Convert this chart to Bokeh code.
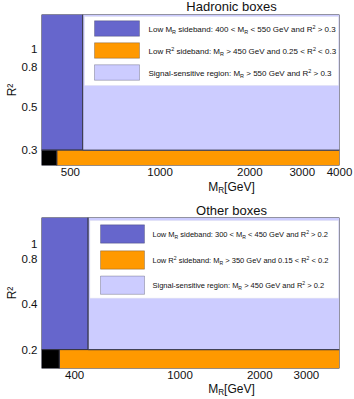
from bokeh.plotting import figure
from bokeh.layouts import column
from bokeh.models import FixedTicker, Label, BoxAnnotation
from bokeh.embed import file_html
from bokeh.resources import INLINE

# ---------------- data ----------------
# Hadronic boxes: region bounds in M_R [GeV] and R^2
had_title = "Hadronic boxes"
had_names = ["Low MR sideband", "Low R2 sideband", "Signal-sensitive region", "Excluded corner"]
had_mr_lo = [400, 450, 550, 400]
had_mr_hi = [550, 4000, 4000, 450]
had_r2_lo = [0.3, 0.25, 0.3, 0.25]
had_r2_hi = [1.5, 0.3, 1.5, 0.3]
had_x_range = (400, 4000)
had_y_range = (0.25, 1.5)
had_x_ticks = [500, 1000, 2000, 3000, 4000]
had_x_labels = ["500", "1000", "2000", "3000", "4000"]
had_y_ticks = [0.3, 0.5, 0.8, 1.0]
had_y_labels = ["0.3", "0.5", "0.8", "1"]

# Other boxes
oth_title = "Other boxes"
oth_names = ["Low MR sideband", "Low R2 sideband", "Signal-sensitive region", "Excluded corner"]
oth_mr_lo = [300, 350, 450, 300]
oth_mr_hi = [450, 4000, 4000, 350]
oth_r2_lo = [0.2, 0.15, 0.2, 0.15]
oth_r2_hi = [1.5, 0.2, 1.5, 0.2]
oth_x_range = (300, 4000)
oth_y_range = (0.15, 1.5)
oth_x_ticks = [400, 1000, 2000, 3000]
oth_x_labels = ["400", "1000", "2000", "3000"]
oth_y_ticks = [0.2, 0.4, 0.8, 1.0]
oth_y_labels = ["0.2", "0.4", "0.8", "1"]

# legend texts as (text, role) runs; role: n = normal, sub = subscript, sup = superscript
had_legend = [
    [("Low M", "n"), ("R", "sub"), (" sideband: 400 < M", "n"), ("R", "sub"),
     (" < 550 GeV and R", "n"), ("2", "sup"), (" > 0.3", "n")],
    [("Low R", "n"), ("2", "sup"), (" sideband: M", "n"), ("R", "sub"),
     (" > 450 GeV and 0.25 < R", "n"), ("2", "sup"), (" < 0.3", "n")],
    [("Signal-sensitive region: M", "n"), ("R", "sub"), (" > 550 GeV and R", "n"),
     ("2", "sup"), (" > 0.3", "n")],
]
oth_legend = [
    [("Low M", "n"), ("R", "sub"), (" sideband: 300 < M", "n"), ("R", "sub"),
     (" < 450 GeV and R", "n"), ("2", "sup"), (" > 0.2", "n")],
    [("Low R", "n"), ("2", "sup"), (" sideband: M", "n"), ("R", "sub"),
     (" > 350 GeV and 0.15 < R", "n"), ("2", "sup"), (" < 0.2", "n")],
    [("Signal-sensitive region: M", "n"), ("R", "sub"), (" > 450 GeV and R", "n"),
     ("2", "sup"), (" > 0.2", "n")],
]
x_label_runs = [("M", "n"), ("R", "sub"), ("[GeV]", "n")]

# ---------------- style ----------------
FONT = "Liberation Sans"
COLORS = ["#6666cc", "#ff9900", "#ccccff", "#000000"]
EDGE = "#333344"
TEXT = "#111111"
FRAME_W, FRAME_H = 298, 151
LEFT, RIGHT, BOTTOM = 41, 15, 15
CX = LEFT + FRAME_W / 2
BASE_FIX = 0.27   # raise labels so their alphabetic baseline lands on the requested y

# Arial / Liberation Sans advance widths (1/1000 em)
W = {" ": 278, ":": 278, ".": 278, "<": 584, ">": 584, "[": 278, "]": 278, "-": 333,
     "G": 778, "L": 556, "M": 833, "R": 722, "S": 667, "V": 667,
     "a": 556, "b": 556, "d": 556, "e": 556, "g": 556, "i": 222, "l": 222, "n": 556,
     "o": 556, "r": 333, "s": 500, "t": 278, "v": 500, "w": 722}


def tw(s, fs):
    return sum(W.get(c, 556) for c in s) * fs / 1000.0


def rich_text(p, runs, x0, y_base, fs, align="left"):
    """Place a run of normal/sub/superscript text pieces side by side (screen units)."""
    sizes = [fs if r == "n" else fs * 0.68 for _, r in runs]
    widths = [tw(t, f) for (t, _), f in zip(runs, sizes)]
    x = x0 - sum(widths) / 2 if align == "center" else x0
    for (t, role), f, w in zip(runs, sizes, widths):
        lead = tw(t[: len(t) - len(t.lstrip())], f)
        dy = {"n": 0.0, "sub": -0.22 * fs, "sup": 0.42 * fs}[role]
        p.add_layout(Label(x=x + lead, y=y_base + dy + BASE_FIX * f,
                           x_units="screen", y_units="screen",
                           text=t.strip(), text_font=FONT, text_font_size=f"{f:.2f}px",
                           text_color=TEXT, text_baseline="alphabetic", text_align="left"))
        x += w


def title_text(p, text, y_base, fs=13):
    p.add_layout(Label(x=CX, y=y_base + BASE_FIX * fs, x_units="screen", y_units="screen",
                       text=text, text_font=FONT, text_font_size=f"{fs}px", text_color=TEXT,
                       text_baseline="alphabetic", text_align="center"))


def make_panel(xr, yr, lo_x, hi_x, lo_y, hi_y, xt, xl, yt, yl, legend, lg):
    p = figure(x_axis_type="log", y_axis_type="log", x_range=xr, y_range=yr,
               frame_width=FRAME_W, frame_height=FRAME_H, min_border_left=LEFT,
               min_border_right=RIGHT, min_border_top=0, min_border_bottom=BOTTOM,
               output_backend="svg", toolbar_location=None)
    p.outline_line_color = None
    p.grid.visible = False
    p.background_fill_color = "white"

    p.quad(left=lo_x, right=hi_x, bottom=lo_y, top=hi_y, fill_color=COLORS,
           line_color=EDGE, line_width=1)

    for ax in (p.xaxis, p.yaxis):
        ax.axis_line_color = None
        ax.major_tick_line_color = None
        ax.minor_tick_line_color = None
        ax.major_tick_out = 0
        ax.major_tick_in = 0
        ax.minor_tick_out = 0
        ax.minor_tick_in = 0
        ax.major_label_text_font = FONT
        ax.major_label_text_font_size = "11.5px"
        ax.major_label_text_color = TEXT
    p.xaxis.ticker = FixedTicker(ticks=xt, minor_ticks=[])
    p.xaxis.major_label_overrides = {t: s for t, s in zip(xt, xl)}
    p.xaxis.major_label_standoff = 2
    p.yaxis.ticker = FixedTicker(ticks=yt, minor_ticks=[])
    p.yaxis.major_label_overrides = {t: s for t, s in zip(yt, yl)}
    p.yaxis.major_label_standoff = 4
    p.yaxis.axis_label = "R²"
    p.yaxis.axis_label_text_font = FONT
    p.yaxis.axis_label_text_font_size = "12px"
    p.yaxis.axis_label_text_font_style = "normal"
    p.yaxis.axis_label_text_line_height = 1.0
    p.yaxis.axis_label_text_color = TEXT
    p.yaxis.axis_label_standoff = 0

    # legend panel (screen units, origin at the frame's bottom-left)
    p.add_layout(BoxAnnotation(left=lg["box"][0], right=lg["box"][1], bottom=lg["box"][2],
                               top=lg["box"][3], left_units="screen", right_units="screen",
                               bottom_units="screen", top_units="screen",
                               fill_color="white", fill_alpha=1.0,
                               line_color="#dcdce8", line_width=1))
    for i, runs in enumerate(legend):
        cy = lg["rows"][i]
        h = lg["patch_h"]
        p.add_layout(BoxAnnotation(left=lg["patch_x"][0], right=lg["patch_x"][1],
                                   bottom=cy - h / 2, top=cy + h / 2,
                                   left_units="screen", right_units="screen",
                                   bottom_units="screen", top_units="screen",
                                   fill_color=COLORS[i], fill_alpha=1.0,
                                   line_color=EDGE, line_width=1))
        rich_text(p, runs, lg["text_x"], cy - 0.36 * lg["fs"], lg["fs"])
    return p


def strip(height):
    """Blank full-width strip that carries titles and the M_R[GeV] axis title."""
    s = figure(width=LEFT + FRAME_W + RIGHT, height=height, x_range=(0, 1), y_range=(0, 1),
               min_border=0, x_axis_location=None, y_axis_location=None,
               output_backend="svg", toolbar_location=None)
    s.grid.visible = False
    s.outline_line_color = None
    return s


had_lg = dict(box=(43, 297, 80, 149), patch_x=(53, 98), rows=(137, 115, 93),
              patch_h=15.5, text_x=107, fs=8.0)
oth_lg = dict(box=(48.5, 297, 70.3, 148), patch_x=(59, 103), rows=(134.5, 108.5, 83.3),
              patch_h=18.3, text_x=111, fs=7.5)

s0 = strip(14)
title_text(s0, had_title, 4)

p1 = make_panel(had_x_range, had_y_range, had_mr_lo, had_mr_hi,
                had_r2_lo, had_r2_hi, had_x_ticks, had_x_labels, had_y_ticks, had_y_labels,
                had_legend, had_lg)

s1 = strip(37)
rich_text(s1, x_label_runs, CX, 27, 12, align="center")
title_text(s1, oth_title, 3.5)

p2 = make_panel(oth_x_range, oth_y_range, oth_mr_lo, oth_mr_hi,
                oth_r2_lo, oth_r2_hi, oth_x_ticks, oth_x_labels, oth_y_ticks, oth_y_labels,
                oth_legend, oth_lg)

s2 = strip(16)
rich_text(s2, x_label_runs, CX, 7, 12, align="center")

layout = column(s0, p1, s1, p2, s2, spacing=0)
open("out.html", "w").write(file_html(layout, INLINE))
